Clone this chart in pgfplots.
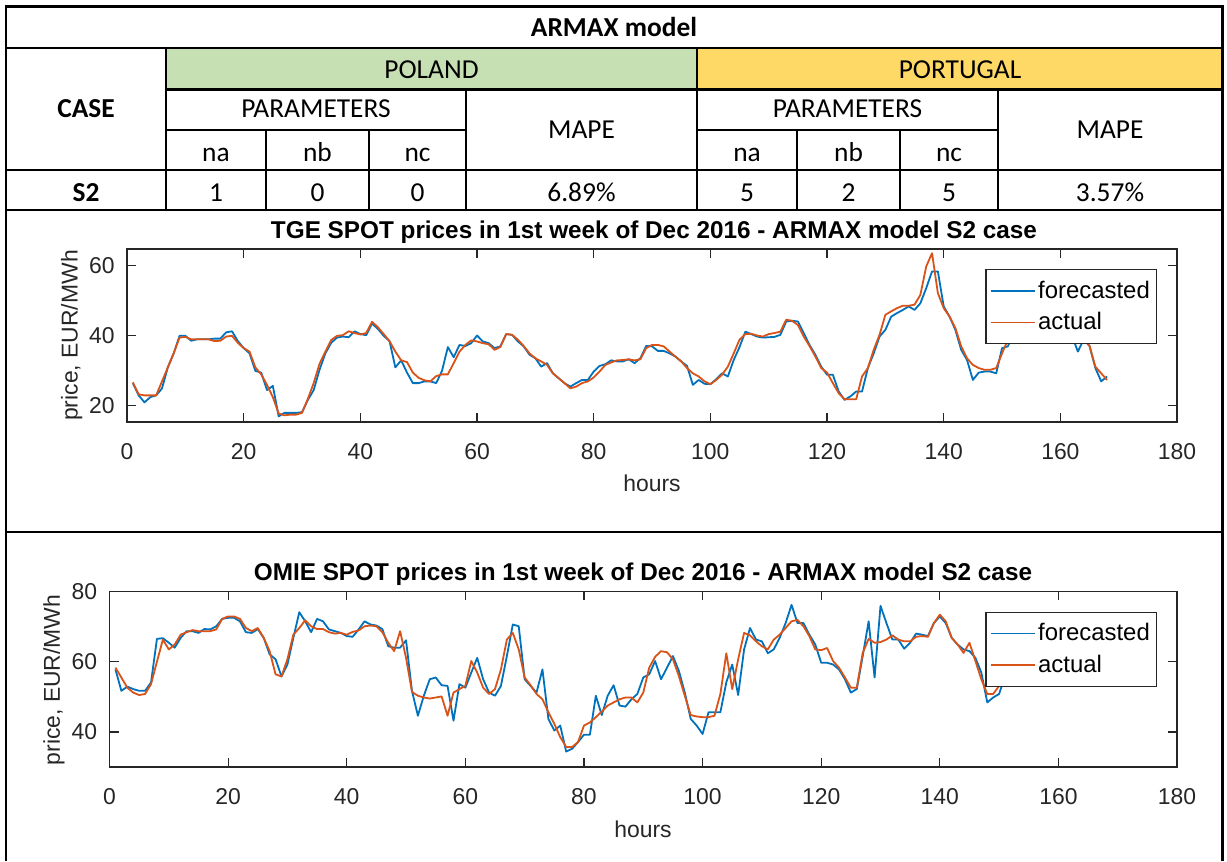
\documentclass[border=0pt]{standalone}
\usepackage{pgfplots}
\usepackage{pgfplotstable}
\pgfplotsset{compat=1.18}
\usepackage{fontspec}
\setmainfont{Liberation Sans}
\newfontfamily\calibri{Carlito}

\definecolor{mblue}{RGB}{0,114,189}
\definecolor{morange}{RGB}{217,83,25}
\definecolor{axgray}{RGB}{38,38,38}
\definecolor{plgreen}{RGB}{198,224,180}
\definecolor{ptyellow}{RGB}{255,217,102}

% TGE hourly prices, 1st week of Dec 2016
\pgfplotstableread{
h fc act
1 26.5 26.7
2 23 23.3
3 21 23
4 22.5 23
5 23 23
6 25 27
7 31 31
8 35 35
9 40 39.5
10 40 39.7
11 38.6 39
12 39 39
13 39 39
14 39 39
15 39.2 38.5
16 39.2 38.6
17 41 39.8
18 41.3 40
19 38.5 38
20 36.5 36.5
21 35 35.5
22 30 31
23 29.5 29
24 24.5 26
25 25.7 22.5
26 17 17.8
27 18 17.3
28 18 17.5
29 18 17.5
30 18.2 18
31 21.7 22
32 24.5 26.5
33 30.3 32
34 35 35.5
35 38 38.8
36 39.5 40
37 39.8 40.2
38 39.6 41.3
39 41.3 40.8
40 40.5 40.4
41 40.2 40.8
42 43.5 44
43 42 42.5
44 40 40.5
45 38.5 38.5
46 31 35.5
47 33 33
48 29.5 32.5
49 26.5 29.5
50 26.5 28
51 27 27.3
52 27 27
53 26.5 28.5
54 30 29
55 36.8 29
56 33.9 32.2
57 37.4 35.5
58 37.1 37.4
59 37.9 38.7
60 40.1 38.4
61 38.4 37.9
62 37.9 37.6
63 36.5 36
64 37 36.8
65 40.5 40.5
66 40.3 40.3
67 38.4 38.9
68 37 37.1
69 34.6 35
70 33.6 33.6
71 31.2 32.7
72 32.2 31.7
73 29.3 29.3
74 27.9 27.9
75 26.5 26.5
76 25.5 25
77 26.5 25.5
78 27.4 26.5
79 27.4 27
80 29.8 28.1
81 31.4 29.8
82 31.9 31.7
83 33 32.4
84 32.7 33
85 32.7 33.1
86 33.3 33.3
87 32.2 33
88 33.6 33.3
89 37.1 36.5
90 37 37.4
91 35.7 37.4
92 35.7 37
93 35 35.5
94 34.1 34.1
95 32.7 32.7
96 31.4 30.8
97 26 29.3
98 27.4 28.4
99 26.3 27
100 26.2 26.2
101 27.6 27.4
102 29.3 28.9
103 28.4 31.2
104 33.1 35
105 36.8 38.9
106 41.2 40.5
107 40.5 40.6
108 39.8 40.1
109 39.5 39.8
110 39.6 40.5
111 39.7 40.8
112 40.3 41.2
113 44.1 44.6
114 44.3 44.3
115 44.1 43.1
116 40.8 39.8
117 37.4 37.1
118 34.6 34.1
119 31.2 30.8
120 28.9 29.5
121 28.9 26.5
122 24.1 23.6
123 21.7 21.9
124 22.7 21.9
125 24.1 21.9
126 24.1 28.4
127 30.8 30.8
128 35 36
129 39.8 40.3
130 41.7 46
131 45.5 47
132 46.5 47.9
133 47.4 48.6
134 48.4 48.6
135 47.4 48.9
136 49.3 51.7
137 53.6 59.8
138 58.4 63.6
139 58.4 52.2
140 48.4 47.9
141 45.5 45.5
142 41.7 42.2
143 36 37
144 33.1 33.6
145 27.4 31.7
146 29.5 30.8
147 29.8 30.3
148 29.8 30.3
149 29.3 30.8
150 36.5 35
151 37 38.9
152 41 41.5
153 43 43.5
154 44 44.5
155 44 44.5
156 43.5 44
157 43.5 43.5
158 44 44
159 45 45.5
160 44 44.5
161 42 42
162 40 40.5
163 35.5 38.9
164 39 39
165 37.1 37.1
166 30.8 31.2
167 27 29.3
168 28.4 27.4
}\tgedata

% OMIE hourly prices, 1st week of Dec 2016
\pgfplotstableread{
h fc act
1 57.8 58.3
2 51.7 55.5
3 52.9 52.6
4 52.2 51.2
5 51.7 50.5
6 51.7 50.8
7 54.1 53.6
8 66.5 60
9 66.7 66.3
10 65.4 63.5
11 64 64.9
12 66.8 67.7
13 68.7 68.4
14 68.7 69
15 68.2 68.7
16 69.3 68.7
17 69.2 68.7
18 70.1 69.2
19 72.2 72.2
20 72.5 72.9
21 72.5 72.9
22 71.5 72.2
23 68.4 69.6
24 68.2 68.7
25 69.3 69.6
26 66.8 66.8
27 62.1 63
28 60.7 56.4
29 55.8 55.8
30 59.2 60.7
31 66.8 67.7
32 74.1 69.6
33 71.5 71.8
34 68.4 70.1
35 72.2 69.3
36 71.5 69.3
37 69.2 68.4
38 68.7 68
39 68.2 68.2
40 67.3 67.7
41 67.1 68.5
42 69.2 68.9
43 71.5 70.1
44 70.6 70.3
45 70.3 70.1
46 69.3 68.4
47 64.4 65.4
48 64 63
49 64 68.7
50 66.1 61.1
51 51.7 51.4
52 44.6 50.3
53 50.3 49.8
54 55 49.5
55 55.5 49.8
56 53.3 50.1
57 53.1 44.6
58 43.2 51.2
59 53.6 52.2
60 52.6 53.1
61 56.9 60.2
62 61.1 56.9
63 55 52.6
64 51.2 50.8
65 50.3 52.2
66 53.1 57.8
67 61.6 66.3
68 70.6 68.2
69 70.1 63.5
70 55 55.5
71 53.1 53.3
72 51.2 50.8
73 57.8 49.3
74 43.7 45.6
75 40.4 42.3
76 41.8 38.5
77 34.4 35.7
78 35.2 35.7
79 37.1 37.1
80 39.2 41.8
81 39.2 42.7
82 50.3 44.2
83 44.8 45.8
84 50.3 47.5
85 53.3 48.4
86 47.5 49.3
87 47.2 49.8
88 49.3 49.8
89 50.8 48.4
90 55.5 51.2
91 56.4 58.3
92 60.2 61.4
93 55 63
94 58.3 62.7
95 61.6 60.7
96 57.4 55.9
97 51.2 50.3
98 43.7 44.8
99 41.8 44.4
100 39.4 44.2
101 45.6 44.2
102 45.6 44.6
103 45.6 50.8
104 54.1 62.4
105 59.2 52.2
106 50.5 60.7
107 63.5 68.2
108 69.6 67.5
109 66.3 65.8
110 65.8 64.4
111 62.4 63.5
112 63.5 66.3
113 66.8 67.7
114 71 69.6
115 76.2 71.5
116 71 71.9
117 71 70.1
118 67.7 67.3
119 64.9 63.5
120 59.7 63.3
121 59.7 63.9
122 59.2 60.2
123 57.8 58.3
124 55 55.5
125 51.2 52.6
126 52.2 52.6
127 61.6 62.5
128 71.5 66.5
129 55.5 65.4
130 75.9 65.6
131 71 66.3
132 66.3 67.5
133 66.3 66.3
134 63.7 65.8
135 65.4 65.8
136 68 67.1
137 67.7 67.3
138 67.3 67.1
139 71 71
140 72.9 73.4
141 71 71.5
142 66.8 66.8
143 64.9 64.9
144 63.5 62.5
145 63 65.4
146 61.1 60.2
147 56.9 55
148 48.4 50.8
149 49.8 50.8
150 50.8 53.1
151 56 56.5
}\omiedata

\pgfplotsset{
  matlabaxis/.style={
    scale only axis, anchor=south west,
    xmin=0, xmax=180, xtick={0,20,...,180},
    axis line style={draw=axgray, line width=0.6bp},
    every tick/.style={draw=axgray, line width=0.6bp},
    tick align=inside, major tick length=4.5bp,
    tick label style={font=\fontsize{11.5}{13}\selectfont, text=axgray},
    /pgf/number format/assume math mode=true,
    xticklabel style={anchor=base, yshift=-18.75bp},
    yticklabel style={anchor=east, inner sep=0pt, xshift=-6bp},
    legend style={at={(1,1)}, anchor=north east, xshift=-10.15bp, yshift=-10.15bp,
      draw=axgray, line width=0.6bp, fill=white, text=black,
      font=\fontsize{12}{13}\selectfont,
      inner xsep=1.9bp, inner ysep=3.5bp, row sep=1.6bp, column sep=0pt,
      nodes={inner xsep=1.25bp, inner ysep=2bp}},
    legend cell align=left,
    legend image code/.code={\draw[##1] (0bp,0bp) -- (22bp,0bp);},
    every axis plot/.append style={line width=0.9bp, line join=round},
  },
}

\newcommand{\cellfont}{\calibri\fontsize{13.75}{15}\selectfont}
\newcommand{\plotfont}{\fontsize{11.5}{13}\selectfont}

\begin{document}
\begin{tikzpicture}[x=0.5bp, y=0.5bp]
\useasboundingbox (0,0) rectangle (1227,861);

\begin{scope}[shift={(0,861)}, yscale=-1]
  % header fills
  \fill[plgreen] (166,48) rectangle (697,89.5);
  \fill[ptyellow] (697,48) rectangle (1222.5,89.5);

  % table grid
  \begin{scope}[line width=1.1bp, black]
    \draw (6,48) -- (1222.5,48);
    \draw (166,89.5) -- (1222.5,89.5);
    \draw (166,130) -- (466,130);
    \draw (697,130) -- (998,130);
    \draw (6,170) -- (1222.5,170);
    \draw (6,210) -- (1222.5,210);
    \draw (6,532) -- (1222.5,532);
    \draw (166,48) -- (166,210);
    \draw (697,48) -- (697,210);
    \draw (466,89.5) -- (466,210);
    \draw (998,89.5) -- (998,210);
    \foreach \xx in {266,369,797,900} \draw (\xx,130) -- (\xx,210);
  \end{scope}
  \draw[line width=1.4bp, black] (6,861) -- (6,6.5) -- (1222.5,6.5) -- (1222.5,861);

  % table text
  \begin{scope}[every node/.style={anchor=base, inner sep=0pt, font=\cellfont}]
    \node at (614,37) {\bfseries ARMAX model};
    \node at (431.5,79) {POLAND};
    \node at (960,79) {PORTUGAL};
    \node at (86,118) {\bfseries CASE};
    \node at (316,118) {PARAMETERS};
    \node at (847.5,118) {PARAMETERS};
    \node at (581.5,139) {MAPE};
    \node at (1110,139) {MAPE};
    \node at (216,162) {na};
    \node at (317.5,162) {nb};
    \node at (417.5,162) {nc};
    \node at (747,162) {na};
    \node at (848.5,162) {nb};
    \node at (949,162) {nc};
    \node at (86,202) {\bfseries S2};
    \node at (216,202) {1};
    \node at (317.5,202) {0};
    \node at (417.5,202) {0};
    \node at (581.5,202) {6.89\%};
    \node at (747,202) {5};
    \node at (848.5,202) {2};
    \node at (949,202) {5};
    \node at (1110,202) {3.57\%};
  \end{scope}

  % chart titles and axis labels
  \begin{scope}[every node/.style={anchor=base, inner sep=0pt}]
    \node[font=\fontsize{12.2}{14}\selectfont\bfseries] at (654,238.7)
      {TGE SPOT prices in 1st week of Dec 2016 - ARMAX model S2 case};
    \node[font=\plotfont, text=axgray] at (652,491.5) {hours};
    \node[font=\plotfont, text=axgray, rotate=90] at (77.5,335.5) {price, EUR/MWh};
    \node[font=\fontsize{12.2}{14}\selectfont\bfseries] at (643,580.4)
      {OMIE SPOT prices in 1st week of Dec 2016 - ARMAX model S2 case};
    \node[font=\plotfont, text=axgray] at (643,837.5) {hours};
    \node[font=\plotfont, text=axgray, rotate=90] at (60,680) {price, EUR/MWh};
  \end{scope}
\end{scope}

% Poland: TGE
\begin{axis}[matlabaxis, at={(63.5bp,219.5bp)}, width=525bp, height=86.5bp,
    ymin=15.4, ymax=64.8, ytick={20,40,60}]
  \addplot[mblue] table[x=h, y=fc] {\tgedata};
  \addlegendentry{forecasted}
  \addplot[morange] table[x=h, y=act] {\tgedata};
  \addlegendentry{actual}
\end{axis}

% Portugal: OMIE
\begin{axis}[matlabaxis, at={(54.75bp,47bp)}, width=533.75bp, height=87.75bp,
    ymin=30, ymax=80, ytick={40,60,80}]
  \addplot[mblue] table[x=h, y=fc] {\omiedata};
  \addlegendentry{forecasted}
  \addplot[morange] table[x=h, y=act] {\omiedata};
  \addlegendentry{actual}
\end{axis}
\end{tikzpicture}
\end{document}
